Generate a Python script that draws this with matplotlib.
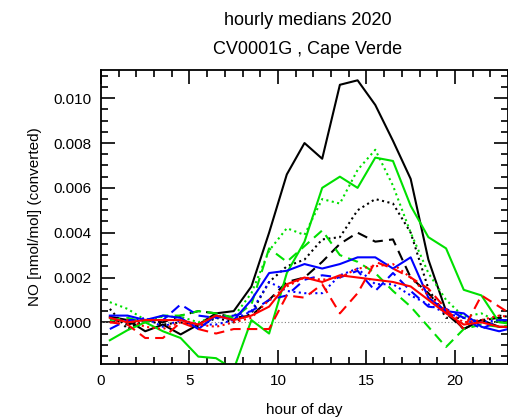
import numpy as np
import matplotlib
matplotlib.use("Agg")
import matplotlib.pyplot as plt
from matplotlib.ticker import MultipleLocator

plt.rcParams['font.family'] = ['Liberation Sans', 'DejaVu Sans']

# hourly medians (values at half hours)
hours = np.arange(24) + 0.5

black_solid = [0.00025, 0.0001, -0.0004, -0.0001, -0.00054, -0.0001, 0.0004, 0.0005,
               0.0016, 0.0040, 0.0066, 0.0080, 0.0073, 0.0106, 0.0108, 0.0097,
               0.0081, 0.0064, 0.0028, 0.0005, -0.0003, 0.0001, -0.0002, -0.0002]
black_dash = [0.0002, -0.0001, 0.0001, 0.0, 0.0003, 0.0005, 0.0004, 0.0002,
              0.0003, 0.0010, 0.0018, 0.0020, 0.0027, 0.0035, 0.0040, 0.0036,
              0.0037, 0.0020, 0.0013, 0.0004, -0.0003, 0.0001, 0.0002, 0.0001]
black_dot = [0.0006, -0.0003, 0.0001, -0.0001, 0.0, -0.0002, 0.0002, 0.0,
             0.0004, 0.0018, 0.0025, 0.0028, 0.0037, 0.0038, 0.0050, 0.0055,
             0.0053, 0.0040, 0.0015, 0.0002, 0.0002, 0.0, 0.0003, 0.0002]

green_solid = [-0.0008, -0.00035, 0.0, -0.0004, -0.0007, -0.00153, -0.0016, -0.0021,
               0.0001, -0.0005, 0.0022, 0.0036, 0.0060, 0.0065, 0.0060, 0.00735,
               0.0072, 0.0052, 0.0038, 0.0033, 0.00145, 0.0012, 0.0, -0.0001]
green_dash = [0.0001, 0.0002, 0.0, 0.0003, 0.0003, 0.0005, 0.0004, 0.0002,
              0.0008, 0.0033, 0.0027, 0.0034, 0.0041, 0.0030, 0.0027, 0.0022,
              0.0014, 0.0007, -0.0002, -0.0011, -0.0003, -0.0001, -0.0002, -0.0001]
green_dot = [0.0009, 0.0006, 0.0001, 0.00025, 0.00025, 0.0, 0.0003, 0.00025,
             0.0013, 0.0032, 0.0042, 0.0039, 0.0055, 0.0053, 0.0068, 0.0077,
             0.0061, 0.0040, 0.0022, 0.0010, 0.00025, 0.0004, 0.0, 0.0001]

blue_solid = [0.0003, 0.0003, 0.0001, 0.0003, 0.0002, -0.0003, 0.0003, 0.0001,
              0.0010, 0.0022, 0.0023, 0.0026, 0.0024, 0.0026, 0.0029, 0.0029,
              0.0024, 0.0029, 0.0011, 0.0005, 0.0004, -0.0002, -0.0004, -0.0002]
blue_dash = [-0.0003, 0.0001, 0.0001, 0.0001, 0.0008, 0.0003, 0.0002, 0.0003,
             0.0005, 0.0010, 0.0012, 0.0019, 0.0021, 0.0020, 0.0023, 0.0014,
             0.0022, 0.0014, 0.0007, 0.0006, 0.0002, -0.0003, 0.0001, 0.0001]
blue_dot = [0.0002, 0.0, 0.0002, -0.0002, 0.0001, -0.0001, -0.0001, 0.0001,
            0.0005, 0.0018, 0.0014, 0.0013, 0.0013, 0.0021, 0.0024, 0.0017,
            0.0017, 0.0012, 0.0008, 0.0004, 0.0002, 0.0, 0.0001, 0.0001]

red_solid = [0.0002, 0.0, 0.0001, 0.0001, 0.0001, -0.0001, 0.0003, 0.0001,
             0.0003, 0.0007, 0.0017, 0.0020, 0.0018, 0.0021, 0.0020, 0.0019,
             0.0018, 0.0016, 0.0010, 0.0004, -0.0001, 0.0, -0.0002, -0.0002]
red_dash = [0.0, -0.0001, -0.0007, -0.0007, 0.0, -0.0003, -0.0005, -0.0003,
            -0.0003, -0.0003, 0.0012, 0.0011, 0.0017, 0.0004, 0.0013, 0.0027,
            0.0024, 0.0020, 0.0015, 0.0006, -0.0003, 0.0012, 0.0007, 0.0002]
red_dot = [0.0, 0.0001, -0.0002, -0.0003, 0.0, -0.0001, -0.0002, 0.0,
           0.0002, 0.0010, 0.0016, 0.0020, 0.0019, 0.0020, 0.0024, 0.0025,
           0.0026, 0.0020, 0.0012, 0.0005, 0.0, 0.0001, 0.0003, 0.0002]

dash = (0, (5, 3))
series = [
    (black_dot, 'black', ':'), (black_dash, 'black', dash), (black_solid, 'black', '-'),
    (green_dot, '#00e000', ':'), (green_dash, '#00e000', dash), (green_solid, '#00e000', '-'),
    (blue_dot, '#0000ff', ':'), (blue_dash, '#0000ff', dash), (blue_solid, '#0000ff', '-'),
    (red_dot, '#ff0000', ':'), (red_dash, '#ff0000', dash), (red_solid, '#ff0000', '-'),
]

fig = plt.figure(figsize=(5.08, 4.17), dpi=100)
ax = fig.add_axes([101 / 508, 1 - 364 / 417, 407 / 508, 294 / 417])

ax.axhline(0, color='gray', lw=0.8, ls=(0, (1, 2)))
for vals, col, ls in series:
    ax.plot(hours, vals, color=col, ls=ls, lw=1.5)

ax.set_xlim(0, 23)
ax.set_ylim(-0.00186, 0.01126)
ax.xaxis.set_major_locator(MultipleLocator(5))
ax.xaxis.set_minor_locator(MultipleLocator(1))
ax.yaxis.set_major_locator(MultipleLocator(0.002))
ax.yaxis.set_minor_locator(MultipleLocator(0.0005))
ax.yaxis.set_major_formatter(matplotlib.ticker.FormatStrFormatter('%.3f'))
ax.tick_params(which='both', direction='in', top=True, right=True, labelsize=11, width=1.2)
ax.tick_params(which='major', length=10, pad=7)
ax.tick_params(which='minor', length=5)
for sp in ax.spines.values():
    sp.set_linewidth(1.3)

ax.set_xlabel('hour of day', fontsize=11, labelpad=11)
ax.set_ylabel('NO [nmol/mol] (converted)', fontsize=11, labelpad=8)
fig.text(0.605, 0.952, 'hourly medians 2020', ha='center', va='center', fontsize=13)
fig.text(0.605, 0.882, 'CV0001G , Cape Verde', ha='center', va='center', fontsize=13)

fig.savefig('out.png', dpi=100)
